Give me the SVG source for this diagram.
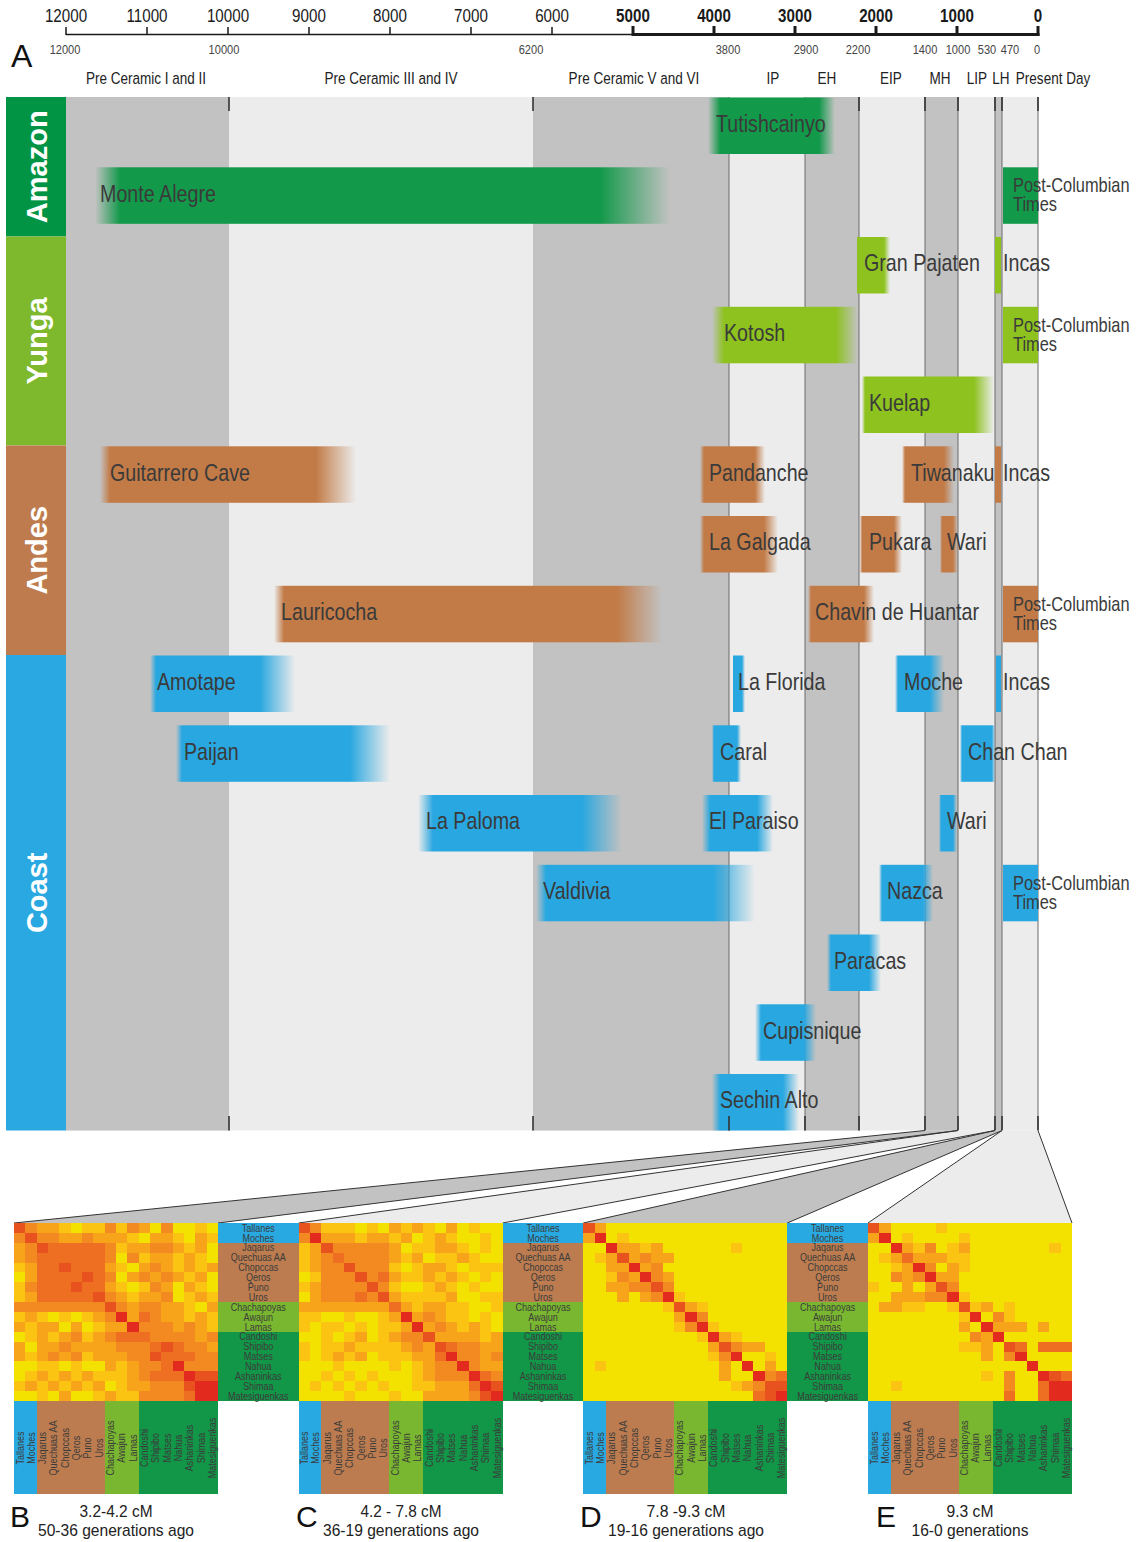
<svg xmlns="http://www.w3.org/2000/svg" width="1141" height="1542" viewBox="0 0 1141 1542">
<defs>
<style>
text{font-family:"Liberation Sans",Arial,Helvetica,sans-serif}
text.ts,g.gs text{transform-box:fill-box;transform:scaleX(.82);transform-origin:0 0}
text.tm,g.gm text{transform-box:fill-box;transform:scaleX(.82);transform-origin:50% 0;text-anchor:middle}
.lb{font-size:24px;fill:#3a3a3a}
.pc{font-size:20px;fill:#3a3a3a}
.rg{font-weight:bold;font-size:29px;fill:#fff;text-anchor:middle}
.ax{font-size:18.5px;fill:#1a1a1a}
.axb{font-weight:bold}
.ax2{font-size:13.5px;fill:#444}
.per{font-size:16.5px;fill:#222}
.rl{font-size:11px;fill:#3b3b3b}
.cap{font-size:17px;fill:#222;text-anchor:middle}
.let{font-size:30px;fill:#111}
.vl{stroke:#6a6a6a;stroke-width:1}
.tk{stroke:#333;stroke-width:1.6}
.ba{fill:#12994a}.by{fill:#8dc21f}.bn{fill:#c27b47}.bc{fill:#29a7e0}
.hm path{fill:none;stroke-width:1}
.k1{stroke:#fcc412}.k2{stroke:#f8a41b}.k3{stroke:#f38a21}.k4{stroke:#ee6f22}.k5{stroke:#e8521f}.k6{stroke:#e32a1e}
.hb1{fill:#29a9e1}.hb2{fill:#bc7c4f}.hb3{fill:#7ab730}.hb4{fill:#129647}
.fs{stroke:#333;stroke-width:1;fill:none}
</style>
<linearGradient id="ia"><stop offset="0" stop-color="#12994a" stop-opacity="0"/><stop offset="1" stop-color="#12994a"/></linearGradient>
<linearGradient id="oa"><stop offset="0" stop-color="#12994a"/><stop offset="1" stop-color="#12994a" stop-opacity="0"/></linearGradient>
<linearGradient id="iy"><stop offset="0" stop-color="#8dc21f" stop-opacity="0"/><stop offset="1" stop-color="#8dc21f"/></linearGradient>
<linearGradient id="oy"><stop offset="0" stop-color="#8dc21f"/><stop offset="1" stop-color="#8dc21f" stop-opacity="0"/></linearGradient>
<linearGradient id="in"><stop offset="0" stop-color="#c27b47" stop-opacity="0"/><stop offset="1" stop-color="#c27b47"/></linearGradient>
<linearGradient id="on"><stop offset="0" stop-color="#c27b47"/><stop offset="1" stop-color="#c27b47" stop-opacity="0"/></linearGradient>
<linearGradient id="ic"><stop offset="0" stop-color="#29a7e0" stop-opacity="0"/><stop offset="1" stop-color="#29a7e0"/></linearGradient>
<linearGradient id="oc"><stop offset="0" stop-color="#29a7e0"/><stop offset="1" stop-color="#29a7e0" stop-opacity="0"/></linearGradient>
</defs>
<rect width="1141" height="1542" fill="#fff"/>

<g id="axis">
<path d="M66 34.5H633" stroke="#1a1a1a" stroke-width="1.5"/>
<path d="M633 34.5H1039.5" stroke="#1a1a1a" stroke-width="3"/>
<path d="M66 27V35M147 27V35M228 27V35M309 27V35M390 27V35M471 27V35M552 27V35" stroke="#1a1a1a" stroke-width="1.5"/>
<path d="M633 26V36M714 26V36M795 26V36M876 26V36M957 26V36M1038 26V36" stroke="#1a1a1a" stroke-width="3"/>
<g class="gm ax">
<text x="66" y="22">12000</text><text x="147" y="22">11000</text><text x="228" y="22">10000</text><text x="309" y="22">9000</text><text x="390" y="22">8000</text><text x="471" y="22">7000</text><text x="552" y="22">6000</text>
<text x="633" y="22" class="axb">5000</text><text x="714" y="22" class="axb">4000</text><text x="795" y="22" class="axb">3000</text><text x="876" y="22" class="axb">2000</text><text x="957" y="22" class="axb">1000</text><text x="1038" y="22" class="axb">0</text>
</g>
<g class="gm ax2">
<text x="65" y="54">12000</text><text x="224" y="54">10000</text><text x="531" y="54">6200</text><text x="728" y="54">3800</text><text x="806" y="54">2900</text><text x="858" y="54">2200</text><text x="925" y="54">1400</text><text x="958" y="54">1000</text><text x="987" y="54">530</text><text x="1010" y="54">470</text><text x="1037" y="54">0</text>
</g>
<text x="11" y="67" class="let" style="font-size:32px">A</text>
<g class="gm per">
<text x="146" y="84">Pre Ceramic I and II</text><text x="391" y="84">Pre Ceramic III and IV</text><text x="634" y="84">Pre Ceramic V and VI</text><text x="773" y="84">IP</text><text x="827" y="84">EH</text><text x="891" y="84">EIP</text><text x="940" y="84">MH</text><text x="977" y="84">LIP</text><text x="1001" y="84">LH</text><text x="1053" y="84">Present Day</text>
</g>
</g>

<g id="background">
<rect x="66" y="97" width="972" height="1033.5" fill="#ececec"/>
<rect x="66" y="97" width="163" height="1033.5" fill="#c2c2c2"/>
<rect x="533" y="97" width="196" height="1033.5" fill="#c2c2c2"/>
<rect x="805" y="97" width="54" height="1033.5" fill="#c2c2c2"/>
<rect x="925" y="97" width="33" height="1033.5" fill="#c2c2c2"/>
<rect x="995" y="97" width="7" height="1033.5" fill="#c2c2c2"/>
<path class="vl" d="M729 97V1130.5M805 97V1130.5M859 97V1130.5M925 97V1130.5M958 97V1130.5M995 97V1130.5M1002 97V1130.5M1038 97V1130.5"/>
<path class="tk" d="M229 97V111M533 97V111M859 97V111M925 97V111M958 97V111M995 97V111M1002 97V111M1038 97V111"/>
</g>

<g id="regions">
<g id="amazon"><rect x="6" y="97" width="60" height="139.5" fill="#009444"/><text class="rg" transform="translate(47,166.8) rotate(-90)">Amazon</text></g>
<g id="yunga"><rect x="6" y="236.5" width="60" height="209" fill="#7db82d"/><text class="rg" transform="translate(47,341) rotate(-90)">Yunga</text></g>
<g id="andes"><rect x="6" y="445.5" width="60" height="209.5" fill="#be7c4e"/><text class="rg" transform="translate(47,550.3) rotate(-90)">Andes</text></g>
<g id="coast"><rect x="6" y="655" width="60" height="475.5" fill="#2aa8e1"/><text class="rg" transform="translate(47,892.8) rotate(-90)">Coast</text></g>
</g>

<g id="bars">
<g id="tutishcainyo"><rect x="708" y="97.5" width="12" height="56.5" fill="url(#ia)"/><rect x="720" y="97.5" width="99" height="56.5" class="ba"/><rect x="819" y="97.5" width="16" height="56.5" fill="url(#oa)"/><text x="716" y="131.8" class="ts lb">Tutishcainyo</text></g>
<g id="montealegre"><rect x="95" y="167.3" width="25" height="56.5" fill="url(#ia)"/><rect x="120" y="167.3" width="480" height="56.5" class="ba"/><rect x="600" y="167.3" width="70" height="56.5" fill="url(#oa)"/><text x="100" y="201.6" class="ts lb">Monte Alegre</text></g>
<g id="postcol-amazon"><rect x="1003" y="167.3" width="35" height="56.5" class="ba"/><text y="192.3" class="ts pc"><tspan x="1013">Post-Columbian</tspan><tspan x="1013" dy="19">Times</tspan></text></g>

<g id="granpajaten"><rect x="857" y="237" width="27" height="56.5" class="by"/><rect x="884" y="237" width="6" height="56.5" fill="url(#oy)"/><text x="864" y="271.3" class="ts lb">Gran Pajaten</text></g>
<g id="incas-yunga"><rect x="995" y="237" width="6" height="56.5" class="by"/><text x="1003" y="271.3" class="ts lb">Incas</text></g>
<g id="kotosh"><rect x="712" y="306.8" width="12" height="56.5" fill="url(#iy)"/><rect x="724" y="306.8" width="112" height="56.5" class="by"/><rect x="836" y="306.8" width="22" height="56.5" fill="url(#oy)"/><text x="724" y="341.1" class="ts lb">Kotosh</text></g>
<g id="postcol-yunga"><rect x="1003" y="306.8" width="35" height="56.5" class="by"/><text y="331.8" class="ts pc"><tspan x="1013">Post-Columbian</tspan><tspan x="1013" dy="19">Times</tspan></text></g>
<g id="kuelap"><rect x="862" y="376.5" width="3" height="56.5" fill="url(#iy)"/><rect x="865" y="376.5" width="109" height="56.5" class="by"/><rect x="974" y="376.5" width="20" height="56.5" fill="url(#oy)"/><text x="869" y="410.8" class="ts lb">Kuelap</text></g>

<g id="guitarrero"><rect x="100" y="446.3" width="10" height="56.5" fill="url(#in)"/><rect x="110" y="446.3" width="206" height="56.5" class="bn"/><rect x="316" y="446.3" width="40" height="56.5" fill="url(#on)"/><text x="110" y="480.6" class="ts lb">Guitarrero Cave</text></g>
<g id="pandanche"><rect x="700" y="446.3" width="4" height="56.5" fill="url(#in)"/><rect x="704" y="446.3" width="51" height="56.5" class="bn"/><rect x="755" y="446.3" width="10" height="56.5" fill="url(#on)"/><text x="709" y="480.6" class="ts lb">Pandanche</text></g>
<g id="tiwanaku"><rect x="902" y="446.3" width="3" height="56.5" fill="url(#in)"/><rect x="905" y="446.3" width="39" height="56.5" class="bn"/><rect x="944" y="446.3" width="10" height="56.5" fill="url(#on)"/><text x="911" y="480.6" class="ts lb">Tiwanaku</text></g>
<g id="incas-andes"><rect x="995" y="446.3" width="6" height="56.5" class="bn"/><text x="1003" y="480.6" class="ts lb">Incas</text></g>
<g id="lagalgada"><rect x="700" y="516" width="4" height="56.5" fill="url(#in)"/><rect x="704" y="516" width="60" height="56.5" class="bn"/><rect x="764" y="516" width="14" height="56.5" fill="url(#on)"/><text x="709" y="550.3" class="ts lb">La Galgada</text></g>
<g id="pukara"><rect x="860" y="516" width="2" height="56.5" fill="url(#in)"/><rect x="862" y="516" width="32" height="56.5" class="bn"/><rect x="894" y="516" width="8" height="56.5" fill="url(#on)"/><text x="869" y="550.3" class="ts lb">Pukara</text></g>
<g id="wari-andes"><rect x="940" y="516" width="2" height="56.5" fill="url(#in)"/><rect x="942" y="516" width="11" height="56.5" class="bn"/><rect x="953" y="516" width="5" height="56.5" fill="url(#on)"/><text x="947" y="550.3" class="ts lb">Wari</text></g>
<g id="lauricocha"><rect x="274" y="585.8" width="10" height="56.5" fill="url(#in)"/><rect x="284" y="585.8" width="333" height="56.5" class="bn"/><rect x="617" y="585.8" width="45" height="56.5" fill="url(#on)"/><text x="281" y="620.1" class="ts lb">Lauricocha</text></g>
<g id="chavin"><rect x="808" y="585.8" width="3" height="56.5" fill="url(#in)"/><rect x="811" y="585.8" width="53" height="56.5" class="bn"/><rect x="864" y="585.8" width="10" height="56.5" fill="url(#on)"/><text x="815" y="620.1" class="ts lb">Chavin de Huantar</text></g>
<g id="postcol-andes"><rect x="1003" y="585.8" width="35" height="56.5" class="bn"/><text y="610.8" class="ts pc"><tspan x="1013">Post-Columbian</tspan><tspan x="1013" dy="19">Times</tspan></text></g>

<g id="amotape"><rect x="150" y="655.5" width="6" height="56.5" fill="url(#ic)"/><rect x="156" y="655.5" width="104" height="56.5" class="bc"/><rect x="260" y="655.5" width="35" height="56.5" fill="url(#oc)"/><text x="157" y="689.8" class="ts lb">Amotape</text></g>
<g id="laflorida"><rect x="733" y="655.5" width="9" height="56.5" class="bc"/><rect x="742" y="655.5" width="3" height="56.5" fill="url(#oc)"/><text x="738" y="689.8" class="ts lb">La Florida</text></g>
<g id="moche"><rect x="895" y="655.5" width="3" height="56.5" fill="url(#ic)"/><rect x="898" y="655.5" width="32" height="56.5" class="bc"/><rect x="930" y="655.5" width="14" height="56.5" fill="url(#oc)"/><text x="904" y="689.8" class="ts lb">Moche</text></g>
<g id="incas-coast"><rect x="996" y="655.5" width="5" height="56.5" class="bc"/><text x="1003" y="689.8" class="ts lb">Incas</text></g>
<g id="paijan"><rect x="176" y="725.3" width="6" height="56.5" fill="url(#ic)"/><rect x="182" y="725.3" width="168" height="56.5" class="bc"/><rect x="350" y="725.3" width="40" height="56.5" fill="url(#oc)"/><text x="184" y="759.6" class="ts lb">Paijan</text></g>
<g id="caral"><rect x="712" y="725.3" width="2" height="56.5" fill="url(#ic)"/><rect x="714" y="725.3" width="23" height="56.5" class="bc"/><rect x="737" y="725.3" width="4" height="56.5" fill="url(#oc)"/><text x="720" y="759.6" class="ts lb">Caral</text></g>
<g id="chanchan"><rect x="960" y="725.3" width="2" height="56.5" fill="url(#ic)"/><rect x="962" y="725.3" width="30" height="56.5" class="bc"/><rect x="992" y="725.3" width="3" height="56.5" fill="url(#oc)"/><text x="968" y="759.6" class="ts lb">Chan Chan</text></g>
<g id="lapaloma"><rect x="418" y="795" width="15" height="56.5" fill="url(#ic)"/><rect x="433" y="795" width="149" height="56.5" class="bc"/><rect x="582" y="795" width="40" height="56.5" fill="url(#oc)"/><text x="426" y="829.3" class="ts lb">La Paloma</text></g>
<g id="elparaiso"><rect x="702" y="795" width="8" height="56.5" fill="url(#ic)"/><rect x="710" y="795" width="47" height="56.5" class="bc"/><rect x="757" y="795" width="16" height="56.5" fill="url(#oc)"/><text x="709" y="829.3" class="ts lb">El Paraiso</text></g>
<g id="wari-coast"><rect x="939" y="795" width="2" height="56.5" fill="url(#ic)"/><rect x="941" y="795" width="12" height="56.5" class="bc"/><rect x="953" y="795" width="4" height="56.5" fill="url(#oc)"/><text x="947" y="829.3" class="ts lb">Wari</text></g>
<g id="valdivia"><rect x="536" y="864.8" width="10" height="56.5" fill="url(#ic)"/><rect x="546" y="864.8" width="167" height="56.5" class="bc"/><rect x="713" y="864.8" width="42" height="56.5" fill="url(#oc)"/><text x="543" y="899.1" class="ts lb">Valdivia</text></g>
<g id="nazca"><rect x="879" y="864.8" width="3" height="56.5" fill="url(#ic)"/><rect x="882" y="864.8" width="41" height="56.5" class="bc"/><rect x="923" y="864.8" width="10" height="56.5" fill="url(#oc)"/><text x="887" y="899.1" class="ts lb">Nazca</text></g>
<g id="postcol-coast"><rect x="1003" y="864.8" width="35" height="56.5" class="bc"/><text y="889.8" class="ts pc"><tspan x="1013">Post-Columbian</tspan><tspan x="1013" dy="19">Times</tspan></text></g>
<g id="paracas"><rect x="827" y="934.5" width="4" height="56.5" fill="url(#ic)"/><rect x="831" y="934.5" width="38" height="56.5" class="bc"/><rect x="869" y="934.5" width="12" height="56.5" fill="url(#oc)"/><text x="834" y="968.8" class="ts lb">Paracas</text></g>
<g id="cupisnique"><rect x="755" y="1004.3" width="6" height="56.5" fill="url(#ic)"/><rect x="761" y="1004.3" width="43" height="56.5" class="bc"/><rect x="804" y="1004.3" width="12" height="56.5" fill="url(#oc)"/><text x="763" y="1038.6" class="ts lb">Cupisnique</text></g>
<g id="sechinalto"><rect x="712" y="1074" width="8" height="56.5" fill="url(#ic)"/><rect x="720" y="1074" width="63" height="56.5" class="bc"/><rect x="783" y="1074" width="16" height="56.5" fill="url(#oc)"/><text x="720" y="1108.3" class="ts lb">Sechin Alto</text></g>
</g>
<path class="tk" d="M229 1116V1130.5M533 1116V1130.5M729 1116V1130.5M805 1116V1130.5M859 1116V1130.5M925 1116V1130.5M958 1116V1130.5M995 1116V1130.5M1002 1116V1130.5M1038 1116V1130.5"/>

<g id="connectors">
<polygon points="925,1130.5 958,1130.5 218,1223 14,1223" fill="#c2c2c2"/>
<polygon points="958,1130.5 995,1130.5 502.7,1223 298.7,1223" fill="#ececec"/>
<polygon points="995,1130.5 1002,1130.5 787.3,1223 583.3,1223" fill="#c2c2c2"/>
<polygon points="1002,1130.5 1038,1130.5 1072,1223 868,1223" fill="#ececec"/>
<path class="fs" d="M925 1130.5L14 1223M958 1130.5L218 1223M958 1130.5L298.7 1223M995 1130.5L502.7 1223M995 1130.5L583.3 1223M1002 1130.5L787.3 1223M1002 1130.5L868 1223M1038 1130.5L1072 1223"/>
</g>

<g id="panelB">
<g class="hm" transform="translate(14,1223) scale(11.333,9.889)" shape-rendering="crispEdges">
<rect width="18" height="18" fill="#f3e200"/>
<path class="k1" d="M4 .5h1M6 .5h2M9 .5h1M16 .5h1M10 1.5h1M14 1.5h1M17 1.5h1M9 2.5h1M15 2.5h1M11 3.5h1M14 3.5h1M16 3.5h1M0 4.5h1M9 4.5h1M14 4.5h1M16 4.5h1M15 5.5h1M0 6.5h1M9 6.5h1M11 6.5h1M16 6.5h1M0 7.5h1M10 7.5h1M15 7.5h1M17 7.5h1M15 8.5h1M0 9.5h1M2 9.5h1M4 9.5h1M6 9.5h1M15 9.5h1M17 9.5h1M1 10.5h1M7 10.5h1M17 10.5h1M1 11.5h1M3 11.5h1M6 11.5h1M1 13.5h1M6 13.5h1M2 14.5h2M5 14.5h1M9 14.5h1M1 15.5h1M3 15.5h1M5 15.5h1M7 15.5h3M0 16.5h1M2 16.5h1M4 16.5h1M6 16.5h1M9 16.5h1M2 17.5h1M7 17.5h1M9 17.5h2"/>
<path class="k2" d="M2 .5h2M11 .5h1M4 1.5h2M7 1.5h3M12 1.5h2M16 1.5h1M0 2.5h1M10 2.5h2M14 2.5h1M16 2.5h1M0 3.5h1M12 3.5h2M15 3.5h1M1 4.5h1M8 4.5h1M11 4.5h1M13 4.5h1M15 4.5h1M17 4.5h1M1 5.5h1M10 5.5h1M12 5.5h1M14 5.5h1M16 5.5h1M8 6.5h1M13 6.5h1M15 6.5h1M1 7.5h1M9 7.5h1M11 7.5h2M16 7.5h1M10 8.5h1M13 8.5h2M17 8.5h1M1 9.5h1M7 9.5h1M10 9.5h1M13 9.5h2M16 9.5h1M0 10.5h1M2 10.5h2M5 10.5h1M8 10.5h2M14 10.5h1M16 10.5h1M2 11.5h1M4 11.5h1M7 11.5h1M16 11.5h1M0 12.5h1M2 12.5h2M5 12.5h4M17 12.5h1M0 13.5h1M2 13.5h1M4 13.5h1M7 13.5h3M8 14.5h1M10 14.5h1M2 15.5h1M4 15.5h1M6 15.5h1M10 15.5h1M1 16.5h1M3 16.5h1M5 16.5h1M7 16.5h1M10 16.5h2M4 17.5h1M8 17.5h1"/>
<path class="k3" d="M1 .5h1M8 .5h1M10 .5h1M13 .5h1M0 1.5h1M2 1.5h2M6 1.5h1M1 2.5h1M8 2.5h1M12 2.5h2M1 3.5h1M8 3.5h1M10 3.5h1M12 4.5h1M8 5.5h1M11 5.5h1M13 5.5h1M1 6.5h1M12 6.5h1M8 7.5h1M13 7.5h1M0 8.5h8M9 8.5h1M11 8.5h2M8 9.5h1M12 9.5h1M11 10.5h3M15 10.5h1M5 11.5h1M8 11.5h1M12 11.5h4M17 11.5h1M4 12.5h1M9 12.5h3M15 12.5h2M3 13.5h1M5 13.5h1M10 13.5h2M16 13.5h2M11 14.5h2M15 14.5h3M11 15.5h1M12 16.5h3M11 17.5h4"/>
<path class="k4" d="M3 2.5h5M2 3.5h6M2 4.5h2M5 4.5h3M2 5.5h4M7 5.5h1M2 6.5h3M6 6.5h2M2 7.5h5M11 9.5h1M9 11.5h3M12 12.5h1M14 12.5h1M13 13.5h3M13 14.5h1M12 15.5h3M15 17.5h1"/>
<path class="k5" d="M0 .5h1M1 1.5h1M2 2.5h1M4 4.5h1M6 5.5h1M5 6.5h1M7 7.5h1M8 8.5h1M13 12.5h1M12 13.5h1M16 15.5h2M15 16.5h1"/>
<path class="k6" d="M9 9.5h1M10 10.5h1M14 14.5h1M15 15.5h1M16 16.5h2M16 17.5h2"/>
<rect x="18" y="0" width="7.12" height="2" class="hb1"/><rect x="18" y="2" width="7.12" height="6" class="hb2"/><rect x="18" y="8" width="7.12" height="3" class="hb3"/><rect x="18" y="11" width="7.12" height="7" class="hb4"/>
<rect x="0" y="18" width="2" height="9.4" class="hb1"/><rect x="2" y="18" width="6" height="9.4" class="hb2"/><rect x="8" y="18" width="3" height="9.4" class="hb3"/><rect x="11" y="18" width="7" height="9.4" class="hb4"/>
</g>
<g class="gm rl" transform="translate(258.3,0)">
<text y="1231.7">Tallanes</text><text y="1241.6">Moches</text><text y="1251.5">Jaqarus</text><text y="1261.4">Quechuas AA</text><text y="1271.3">Chopccas</text><text y="1281.2">Qeros</text><text y="1291.1">Puno</text><text y="1301">Uros</text><text y="1310.9">Chachapoyas</text><text y="1320.8">Awajun</text><text y="1330.6">Lamas</text><text y="1340.5">Candoshi</text><text y="1350.4">Shipibo</text><text y="1360.3">Matses</text><text y="1370.2">Nahua</text><text y="1380.1">Ashaninkas</text><text y="1390">Shimaa</text><text y="1399.9">Matesiguenkas</text>
</g>
<g class="gm rl" transform="translate(14,1448) rotate(-90)">
<text y="9.5">Tallanes</text><text y="20.8">Moches</text><text y="32.1">Jaqarus</text><text y="43.5">Quechuas AA</text><text y="54.8">Chopccas</text><text y="66.1">Qeros</text><text y="77.5">Puno</text><text y="88.8">Uros</text><text y="100.1">Chachapoyas</text><text y="111.5">Awajun</text><text y="122.8">Lamas</text><text y="134.1">Candoshi</text><text y="145.5">Shipibo</text><text y="156.8">Matses</text><text y="168.1">Nahua</text><text y="179.5">Ashaninkas</text><text y="190.8">Shimaa</text><text y="202.1">Matesiguenkas</text>
</g>
<text x="10" y="1527" class="let">B</text>
<text x="116" y="1517" class="cap" textLength="73" lengthAdjust="spacingAndGlyphs">3.2-4.2 cM</text>
<text x="116" y="1536" class="cap" textLength="156" lengthAdjust="spacingAndGlyphs">50-36 generations ago</text>
</g>

<g id="panelC">
<g class="hm" transform="translate(298.7,1223) scale(11.333,9.889)" shape-rendering="crispEdges">
<rect width="18" height="18" fill="#f3e200"/>
<path class="k1" d="M2 .5h3M6 .5h1M9 .5h1M11 .5h1M15 .5h1M5 1.5h1M8 1.5h1M11 1.5h1M13 1.5h1M16 1.5h1M0 2.5h1M10 2.5h2M14 2.5h1M16 2.5h1M0 3.5h1M9 3.5h1M12 3.5h2M15 3.5h1M0 4.5h1M8 4.5h1M10 4.5h1M13 4.5h1M15 4.5h3M1 5.5h1M9 5.5h2M12 5.5h1M14 5.5h1M16 5.5h1M0 6.5h1M8 6.5h1M11 6.5h1M13 6.5h1M15 6.5h1M9 7.5h4M16 7.5h2M10 8.5h1M13 8.5h2M17 8.5h1M0 9.5h2M4 9.5h1M7 9.5h1M13 9.5h2M16 9.5h1M0 10.5h1M2 10.5h2M5 10.5h1M7 10.5h2M14 10.5h1M16 10.5h1M2 11.5h1M4 11.5h1M7 11.5h1M16 11.5h1M0 12.5h1M2 12.5h2M5 12.5h4M0 13.5h1M2 13.5h1M4 13.5h1M7 13.5h3M3 14.5h1M8 14.5h1M10 14.5h1M2 15.5h1M4 15.5h1M6 15.5h1M10 15.5h1M1 16.5h1M3 16.5h1M5 16.5h1M7 16.5h1M10 16.5h2M4 17.5h1M8 17.5h1"/>
<path class="k2" d="M8 .5h1M10 .5h1M13 .5h1M2 1.5h3M6 1.5h2M9 1.5h1M12 1.5h1M1 2.5h1M8 2.5h1M12 2.5h2M1 3.5h1M8 3.5h1M10 3.5h1M14 3.5h1M1 4.5h1M11 4.5h2M8 5.5h1M11 5.5h1M13 5.5h1M1 6.5h1M12 6.5h1M1 7.5h1M8 7.5h1M13 7.5h1M0 8.5h8M9 8.5h1M11 8.5h2M8 9.5h1M10 9.5h1M12 9.5h1M9 10.5h1M11 10.5h1M13 10.5h1M15 10.5h1M5 11.5h1M8 11.5h1M12 11.5h4M17 11.5h1M4 12.5h1M9 12.5h1M11 12.5h1M16 12.5h2M3 13.5h1M5 13.5h1M10 13.5h2M16 13.5h1M11 14.5h1M16 14.5h2M11 15.5h1M12 16.5h3M11 17.5h4"/>
<path class="k3" d="M1 .5h1M0 1.5h1M3 2.5h5M2 3.5h1M4 3.5h4M2 4.5h2M5 4.5h3M2 5.5h3M6 5.5h1M2 6.5h4M7 6.5h1M2 7.5h3M6 7.5h1M11 9.5h1M12 10.5h1M9 11.5h2M10 12.5h1M14 12.5h2M14 13.5h2M17 13.5h1M12 14.5h2M15 14.5h1M12 15.5h3M17 15.5h1M15 17.5h1"/>
<path class="k4" d="M3 3.5h1M7 5.5h1M5 7.5h1M8 8.5h1M13 12.5h1M12 13.5h1M16 15.5h1M15 16.5h1"/>
<path class="k5" d="M0 .5h1M2 2.5h1M4 4.5h1M5 5.5h1M6 6.5h1M7 7.5h1M11 11.5h1M12 12.5h1M17 16.5h1M16 17.5h1"/>
<path class="k6" d="M1 1.5h1M9 9.5h1M10 10.5h1M13 13.5h1M14 14.5h1M15 15.5h1M16 16.5h1M17 17.5h1"/>
<rect x="18" y="0" width="7.12" height="2" class="hb1"/><rect x="18" y="2" width="7.12" height="6" class="hb2"/><rect x="18" y="8" width="7.12" height="3" class="hb3"/><rect x="18" y="11" width="7.12" height="7" class="hb4"/>
<rect x="0" y="18" width="2" height="9.4" class="hb1"/><rect x="2" y="18" width="6" height="9.4" class="hb2"/><rect x="8" y="18" width="3" height="9.4" class="hb3"/><rect x="11" y="18" width="7" height="9.4" class="hb4"/>
</g>
<g class="gm rl" transform="translate(543,0)">
<text y="1231.7">Tallanes</text><text y="1241.6">Moches</text><text y="1251.5">Jaqarus</text><text y="1261.4">Quechuas AA</text><text y="1271.3">Chopccas</text><text y="1281.2">Qeros</text><text y="1291.1">Puno</text><text y="1301">Uros</text><text y="1310.9">Chachapoyas</text><text y="1320.8">Awajun</text><text y="1330.6">Lamas</text><text y="1340.5">Candoshi</text><text y="1350.4">Shipibo</text><text y="1360.3">Matses</text><text y="1370.2">Nahua</text><text y="1380.1">Ashaninkas</text><text y="1390">Shimaa</text><text y="1399.9">Matesiguenkas</text>
</g>
<g class="gm rl" transform="translate(298.7,1448) rotate(-90)">
<text y="9.5">Tallanes</text><text y="20.8">Moches</text><text y="32.1">Jaqarus</text><text y="43.5">Quechuas AA</text><text y="54.8">Chopccas</text><text y="66.1">Qeros</text><text y="77.5">Puno</text><text y="88.8">Uros</text><text y="100.1">Chachapoyas</text><text y="111.5">Awajun</text><text y="122.8">Lamas</text><text y="134.1">Candoshi</text><text y="145.5">Shipibo</text><text y="156.8">Matses</text><text y="168.1">Nahua</text><text y="179.5">Ashaninkas</text><text y="190.8">Shimaa</text><text y="202.1">Matesiguenkas</text>
</g>
<text x="296" y="1527" class="let">C</text>
<text x="401" y="1517" class="cap" textLength="81" lengthAdjust="spacingAndGlyphs">4.2 - 7.8 cM</text>
<text x="401" y="1536" class="cap" textLength="156" lengthAdjust="spacingAndGlyphs">36-19 generations ago</text>
</g>

<g id="panelD">
<g class="hm" transform="translate(583.3,1223) scale(11.333,9.889)" shape-rendering="crispEdges">
<rect width="18" height="18" fill="#f3e200"/>
<path class="k1" d="M3 1.5h1M5 2.5h1M13 2.5h1M1 3.5h1M2 5.5h1M8 7.5h1M7 8.5h1M10 8.5h1M8 10.5h1M11 10.5h1M10 11.5h1M13 11.5h1M11 13.5h1M16 13.5h1M1 14.5h1M13 16.5h1"/>
<path class="k2" d="M1 .5h1M0 1.5h1M3 2.5h2M6 2.5h1M2 3.5h1M4 3.5h1M6 3.5h2M2 4.5h2M5 4.5h1M4 5.5h1M7 5.5h1M2 6.5h2M3 7.5h1M5 7.5h1M9 8.5h1M8 9.5h1M12 11.5h1M11 12.5h1M14 12.5h2M12 14.5h1M16 14.5h1M12 15.5h1M14 16.5h1"/>
<path class="k3" d="M5 3.5h1M6 4.5h1M3 5.5h1M6 5.5h1M4 6.5h2M7 6.5h1M6 7.5h1M10 9.5h1M9 10.5h1M13 12.5h1M12 13.5h1M16 15.5h1M15 16.5h1"/>
<path class="k4" d="M17 15.5h1M15 17.5h1"/>
<path class="k5" d="M0 .5h1M3 3.5h1M6 6.5h1M8 8.5h1M12 12.5h1M16 16.5h2M16 17.5h1"/>
<path class="k6" d="M1 1.5h1M2 2.5h1M4 4.5h1M5 5.5h1M7 7.5h1M9 9.5h1M10 10.5h1M11 11.5h1M13 13.5h1M14 14.5h1M15 15.5h1M17 17.5h1"/>
<rect x="18" y="0" width="7.12" height="2" class="hb1"/><rect x="18" y="2" width="7.12" height="6" class="hb2"/><rect x="18" y="8" width="7.12" height="3" class="hb3"/><rect x="18" y="11" width="7.12" height="7" class="hb4"/>
<rect x="0" y="18" width="2" height="9.4" class="hb1"/><rect x="2" y="18" width="6" height="9.4" class="hb2"/><rect x="8" y="18" width="3" height="9.4" class="hb3"/><rect x="11" y="18" width="7" height="9.4" class="hb4"/>
</g>
<g class="gm rl" transform="translate(827.6,0)">
<text y="1231.7">Tallanes</text><text y="1241.6">Moches</text><text y="1251.5">Jaqarus</text><text y="1261.4">Quechuas AA</text><text y="1271.3">Chopccas</text><text y="1281.2">Qeros</text><text y="1291.1">Puno</text><text y="1301">Uros</text><text y="1310.9">Chachapoyas</text><text y="1320.8">Awajun</text><text y="1330.6">Lamas</text><text y="1340.5">Candoshi</text><text y="1350.4">Shipibo</text><text y="1360.3">Matses</text><text y="1370.2">Nahua</text><text y="1380.1">Ashaninkas</text><text y="1390">Shimaa</text><text y="1399.9">Matesiguenkas</text>
</g>
<g class="gm rl" transform="translate(583.3,1448) rotate(-90)">
<text y="9.5">Tallanes</text><text y="20.8">Moches</text><text y="32.1">Jaqarus</text><text y="43.5">Quechuas AA</text><text y="54.8">Chopccas</text><text y="66.1">Qeros</text><text y="77.5">Puno</text><text y="88.8">Uros</text><text y="100.1">Chachapoyas</text><text y="111.5">Awajun</text><text y="122.8">Lamas</text><text y="134.1">Candoshi</text><text y="145.5">Shipibo</text><text y="156.8">Matses</text><text y="168.1">Nahua</text><text y="179.5">Ashaninkas</text><text y="190.8">Shimaa</text><text y="202.1">Matesiguenkas</text>
</g>
<text x="580" y="1527" class="let">D</text>
<text x="686" y="1517" class="cap" textLength="79" lengthAdjust="spacingAndGlyphs">7.8 -9.3 cM</text>
<text x="686" y="1536" class="cap" textLength="156" lengthAdjust="spacingAndGlyphs">19-16 generations ago</text>
</g>

<g id="panelE">
<g class="hm" transform="translate(868,1223) scale(11.333,9.889)" shape-rendering="crispEdges">
<rect width="18" height="18" fill="#f3e200"/>
<path class="k1" d="M6 .5h1M3 1.5h1M8 1.5h1M4 2.5h1M7 2.5h1M16 2.5h1M1 3.5h1M7 3.5h2M2 4.5h1M8 4.5h1M0 6.5h1M8 7.5h1M3 8.5h2M7 8.5h1M9 8.5h1M12 8.5h1M8 9.5h1M12 9.5h1M8 12.5h2M10 15.5h1M2 16.5h1"/>
<path class="k2" d="M1 .5h1M0 1.5h1M3 2.5h1M8 2.5h1M2 3.5h1M4 3.5h3M3 4.5h1M7 4.5h1M3 5.5h1M6 5.5h2M3 6.5h1M5 6.5h1M2 7.5h3M1 8.5h2M10 8.5h1M8 10.5h1M11 10.5h3M15 10.5h1M10 11.5h1M10 12.5h1M10 13.5h1"/>
<path class="k3" d="M5 2.5h1M5 4.5h1M2 5.5h1M4 5.5h1M7 6.5h1M5 7.5h2M11 9.5h1M9 11.5h1M12 13.5h1M12 15.5h1M12 16.5h1"/>
<path class="k4" d="M3 3.5h1M13 12.5h1M15 12.5h3M17 15.5h1M15 16.5h1M12 17.5h1M15 17.5h1"/>
<path class="k5" d="M0 .5h1M6 6.5h1M8 8.5h1M12 12.5h1M16 15.5h1"/>
<path class="k6" d="M1 1.5h1M2 2.5h1M4 4.5h1M5 5.5h1M7 7.5h1M9 9.5h1M10 10.5h1M11 11.5h1M13 13.5h1M14 14.5h1M15 15.5h1M16 16.5h2M16 17.5h2"/>
<rect x="0" y="18" width="2" height="9.4" class="hb1"/><rect x="2" y="18" width="6" height="9.4" class="hb2"/><rect x="8" y="18" width="3" height="9.4" class="hb3"/><rect x="11" y="18" width="7" height="9.4" class="hb4"/>
</g>
<g class="gm rl" transform="translate(868,1448) rotate(-90)">
<text y="9.5">Tallanes</text><text y="20.8">Moches</text><text y="32.1">Jaqarus</text><text y="43.5">Quechuas AA</text><text y="54.8">Chopccas</text><text y="66.1">Qeros</text><text y="77.5">Puno</text><text y="88.8">Uros</text><text y="100.1">Chachapoyas</text><text y="111.5">Awajun</text><text y="122.8">Lamas</text><text y="134.1">Candoshi</text><text y="145.5">Shipibo</text><text y="156.8">Matses</text><text y="168.1">Nahua</text><text y="179.5">Ashaninkas</text><text y="190.8">Shimaa</text><text y="202.1">Matesiguenkas</text>
</g>
<text x="876" y="1527" class="let">E</text>
<text x="970" y="1517" class="cap" textLength="47" lengthAdjust="spacingAndGlyphs">9.3 cM</text>
<text x="970" y="1536" class="cap" textLength="117" lengthAdjust="spacingAndGlyphs">16-0 generations</text>
</g>
</svg>
